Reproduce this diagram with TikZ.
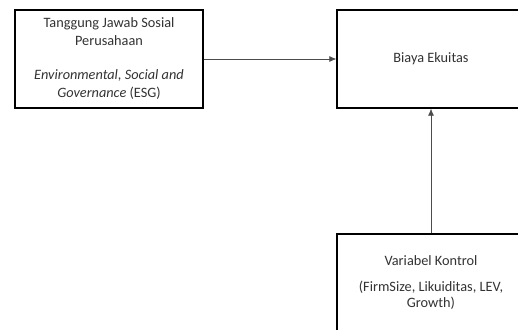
\documentclass[tikz,border=0pt]{standalone}
\usepackage{fontspec}
\setmainfont{Carlito}
\usetikzlibrary{arrows.meta}
\begin{document}
\begin{tikzpicture}[x=1pt,y=-1pt,
    varbox/.style={draw=black,line width=1.4pt,minimum width=188pt,minimum height=98pt,
      inner sep=0pt,align=center,text=black!80,font=\fontsize{14.3}{18}\selectfont},
    link/.style={draw=black!70,line width=0.6pt,-{Latex[length=7pt,width=6pt]}}]
  \useasboundingbox (0,0) rectangle (518,329);
  \clip (0,0) rectangle (518,329);
  \fill[white] (0,0) rectangle (518,329);
  \draw
    (109,59) node[varbox] (csr){Tanggung Jawab Sosial\\Perusahaan\\[16pt]\textit{Environmental, Social and}\\\textit{Governance} (ESG)}
    (431,59) node[varbox] (coe){Biaya Ekuitas}
    (431,283) node[varbox] (ctrl){Variabel Kontrol\\[8pt](FirmSize, Likuiditas, LEV,\\[-2pt]Growth)};
  \begin{scope}[link]
    \draw (csr) to (coe);
    \draw (ctrl) to (coe);
  \end{scope}
\end{tikzpicture}
\end{document}
